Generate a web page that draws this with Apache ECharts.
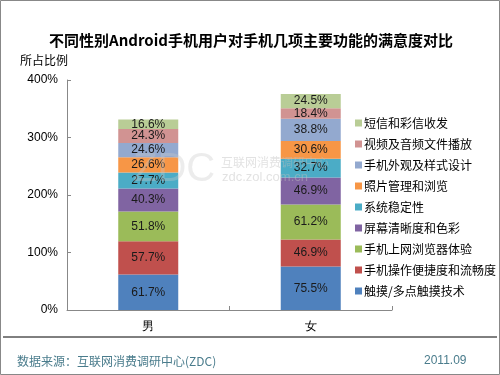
<!DOCTYPE html>
<html>
<head>
<meta charset="utf-8">
<script src="https://cdn.jsdelivr.net/npm/echarts@6/dist/echarts.min.js"></script>
<style>
  html, body { margin: 0; padding: 0; background: #fff; }
  #chart { width: 500px; height: 375px; }
</style>
</head>
<body>
<div id="chart"></div>
<script>
// categories and series (stacked bottom -> top)
var genders = ["男", "女"];
var seriesNames = [
  "触摸/多点触摸技术",
  "手机操作便捷度和流畅度",
  "手机上网浏览器体验",
  "屏幕清晰度和色彩",
  "系统稳定性",
  "照片管理和浏览",
  "手机外观及样式设计",
  "视频及音频文件播放",
  "短信和彩信收发"
];
var touchData = [61.7, 75.5];
var operateData = [57.7, 46.9];
var browserData = [51.8, 61.2];
var screenData = [40.3, 46.9];
var stabilityData = [27.7, 32.7];
var photoData = [26.6, 30.6];
var lookData = [24.6, 38.8];
var videoData = [24.3, 18.4];
var smsData = [16.6, 24.5];
var yTicks = [0, 100, 200, 300, 400];

var allData = [touchData, operateData, browserData, screenData, stabilityData,
  photoData, lookData, videoData, smsData];
var colors = ["#4f81bd", "#c0504d", "#9bbb59", "#8064a2", "#4bacc6",
  "#f79646", "#93a9cf", "#d19392", "#b9cd96"];

var chart = echarts.init(document.getElementById("chart"));

var series = [];
for (var i = 0; i < seriesNames.length; i++) {
  series.push({
    name: seriesNames[i],
    type: "bar",
    stack: "total",
    barWidth: 60,
    itemStyle: { color: colors[i] },
    label: {
      show: true,
      position: "inside",
      color: "#1a1a1a",
      fontFamily: "Arial, 'Liberation Sans'",
      fontSize: 12,
      formatter: "{c}%"
    },
    data: allData[i]
  });
}

var option = {
  backgroundColor: "#fff",
  animation: false,
  title: {
    text: "不同性别Android手机用户对手机几项主要功能的满意度对比",
    left: 246,
    textAlign: "center",
    top: 28,
    textStyle: {
      fontSize: 15,
      fontWeight: "bold",
      color: "#000",
      fontFamily: "'Noto Sans CJK SC', sans-serif"
    }
  },
  legend: {
    orient: "vertical",
    left: 350,
    top: 112,
    itemGap: 9,
    itemWidth: 7,
    itemHeight: 7,
    icon: "rect",
    textStyle: {
      fontSize: 12,
      color: "#000",
      padding: [0, 0, 0, -3],
      fontFamily: "'Noto Sans CJK SC', sans-serif"
    },
    data: seriesNames.slice().reverse()
  },
  grid: {
    left: 67,
    right: 108,
    top: 80,
    bottom: 65
  },
  xAxis: {
    type: "category",
    data: genders,
    axisLine: { lineStyle: { color: "#888" } },
    axisTick: { show: true, inside: true, length: 4, lineStyle: { color: "#888" } },
    axisLabel: { color: "#000", fontSize: 12, margin: 11 }
  },
  yAxis: {
    type: "value",
    min: yTicks[0],
    max: yTicks[yTicks.length - 1],
    interval: 100,
    axisLine: { show: true, lineStyle: { color: "#888" } },
    axisTick: { show: true, inside: true, length: 4, lineStyle: { color: "#888" } },
    splitLine: { show: false },
    axisLabel: {
      color: "#000",
      fontSize: 12,
      fontFamily: "Arial, 'Liberation Sans'",
      margin: 9,
      formatter: "{value}%"
    }
  },
  graphic: [
    { type: "rect", shape: { x: 0.5, y: 0.5, width: 499, height: 374 },
      style: { fill: "none", stroke: "#888", lineWidth: 1 }, silent: true },
    { type: "line", shape: { x1: 3, y1: 337, x2: 497, y2: 337 },
      style: { stroke: "#000", lineWidth: 1 }, silent: true },
    { type: "text", left: 20, top: 54,
      style: { text: "所占比例", fill: "#000", fontSize: 12,
        fontFamily: "'Noto Sans CJK SC', sans-serif" } },
    { type: "text", left: 17, top: 355,
      style: { text: "数据来源：互联网消费调研中心(ZDC)", fill: "#4a7c8c", fontSize: 12,
        fontFamily: "'Noto Sans CJK SC', sans-serif" } },
    { type: "text", left: 424, top: 355,
      style: { text: "2011.09", fill: "#4a7c8c", fontSize: 12, fontFamily: "Arial, 'Liberation Sans'" } },
    { type: "text", left: 133, top: 150, z: 100,
      style: { text: "ZDC", fill: "rgba(200,200,200,0.35)", fontSize: 40,
        fontFamily: "Arial, 'Liberation Sans'" } },
    { type: "text", left: 221, top: 156, z: 100,
      style: { text: "互联网消费调研中心", fill: "rgba(190,190,190,0.45)", fontSize: 12,
        fontFamily: "'Noto Sans CJK SC', sans-serif" } },
    { type: "text", left: 222, top: 171, z: 100,
      style: { text: "zdc.zol.com.cn", fill: "rgba(190,190,190,0.45)", fontSize: 13,
        fontFamily: "Arial, 'Liberation Sans'" } }
  ],
  series: series
};

chart.setOption(option);
</script>
</body>
</html>
